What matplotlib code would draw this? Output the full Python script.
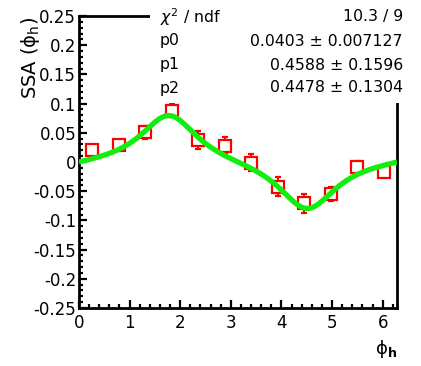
import numpy as np
import matplotlib
matplotlib.use("Agg")
import matplotlib.pyplot as plt
from matplotlib.ticker import MultipleLocator
from matplotlib.patches import Rectangle

# ---- data ----
phi_h = [0.262, 0.785, 1.309, 1.833, 2.356, 2.880, 3.403, 3.927, 4.451, 4.974, 5.498, 6.021]
ssa = [0.0205, 0.029, 0.051, 0.088, 0.0377, 0.028, -0.001, -0.042, -0.071, -0.054, -0.008, -0.0177]
ssa_err = [0.009, 0.009, 0.011, 0.011, 0.016, 0.014, 0.015, 0.016, 0.016, 0.012, 0.009, 0.009]

# fit results (from the stats box)
chi2_ndf = "10.3 / 9"
p0, p0_err = 0.0403, 0.007127
p1, p1_err = 0.4588, 0.1596
p2, p2_err = 0.4478, 0.1304

plt.rcParams['font.family'] = ['DejaVu Sans']
plt.rcParams['mathtext.fontset'] = 'dejavusans'

W, H = 421, 366
fig = plt.figure(figsize=(W / 100, H / 100), dpi=100)
ax = fig.add_axes([79 / W, 1 - 308 / H, 318 / W, 292 / H])

ax.set_xlim(0, 2 * np.pi)
ax.set_ylim(-0.25, 0.25)

# data with errors
ax.errorbar(phi_h, ssa, yerr=ssa_err, fmt='s', color='red', mfc='white', mec='red',
            ms=8.2, mew=1.6, elinewidth=1.5, capsize=2, capthick=1.5, zorder=3)

# fit curve
xf = np.linspace(0, 2 * np.pi, 400)
yf = p0 * np.sin(xf) / (1 + p1 * np.cos(xf) + p2 * np.cos(2 * xf))
ax.plot(xf, yf, color='#10ee10', lw=3.8, zorder=4, solid_capstyle='butt')

# axes styling (ROOT-like)
for s in ax.spines.values():
    s.set_linewidth(2.0)
ax.xaxis.set_major_locator(MultipleLocator(1))
ax.xaxis.set_minor_locator(MultipleLocator(0.2))
ax.yaxis.set_major_locator(MultipleLocator(0.05))
ax.yaxis.set_minor_locator(MultipleLocator(0.01))
ax.tick_params(which='both', direction='in', top=False, right=False, width=1.6)
ax.tick_params(which='major', length=6)
ax.tick_params(which='minor', length=3)
ax.tick_params(axis='both', labelsize=12)
ax.tick_params(axis='x', pad=4)
ax.tick_params(axis='y', pad=2)
ax.set_yticks(np.arange(-0.25, 0.2501, 0.05))
ax.set_yticklabels(['-0.25', '-0.2', '-0.15', '-0.1', '-0.05', '0', '0.05', '0.1', '0.15', '0.2', '0.25'])

# axis titles
fig.text(30 / W, 1 - 17 / H, 'SSA ($\\mathrm{\u03d5}_{\\mathrm{h}}$)', rotation=90,
         ha='center', va='top', fontsize=14)
fig.text(397 / W, 1 - 338 / H, '$\\mathrm{\u03d5}_{\\mathbf{h}}$', ha='right', va='top', fontsize=13)

# stats box (white, covers upper right)
fig.patches.append(Rectangle((150 / W, 1 - 103 / H), (W - 150) / W, 103 / H,
                             transform=fig.transFigure, facecolor='white', edgecolor='none', zorder=10))
rows = [(r'$\chi^2$ / ndf', chi2_ndf),
        ('p0', f'{p0} ± {p0_err}'),
        ('p1', f'{p1} ± {p1_err}'),
        ('p2', f'{p2} ± {p2_err}')]
ys = [17, 41, 65, 88]
for (lab, val), yy in zip(rows, ys):
    fig.text(160 / W, 1 - yy / H, lab, ha='left', va='center', fontsize=11.3, zorder=11)
    fig.text(403 / W, 1 - yy / H, val, ha='right', va='center', fontsize=11.3, zorder=11)

fig.savefig('out.png', dpi=100)
